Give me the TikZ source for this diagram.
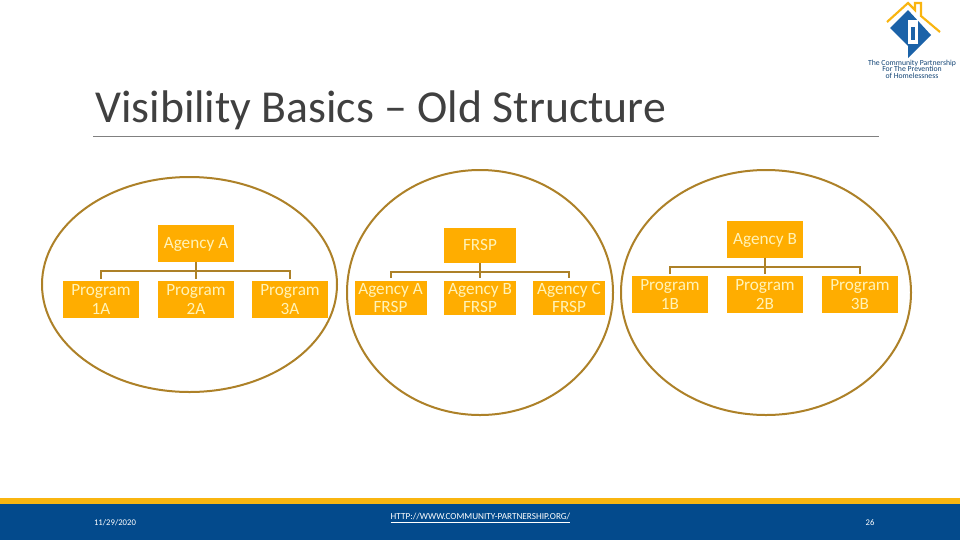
\documentclass[tikz,border=0pt]{standalone}
\usepackage{xcolor}
\usepackage{fontspec}
\setmainfont{Carlito}
\usetikzlibrary{positioning}
\definecolor{orgbox}{HTML}{FFAD00}
\definecolor{orgtext}{HTML}{FFF3B8}
\definecolor{orgline}{HTML}{AD8128}
\definecolor{footblue}{HTML}{034A8C}
\definecolor{footgold}{HTML}{F9B510}
\definecolor{titlegray}{HTML}{404040}
\definecolor{logoblue}{HTML}{1B62A8}
\tikzset{
  orgnode/.style={fill=orgbox, text=orgtext, inner sep=0pt, align=center,
    font=\fontsize{12.9}{13.9}\selectfont},
  bigbox/.style={orgnode, minimum width=57pt, minimum height=27.75pt},
  smallbox/.style={orgnode, minimum width=54pt, minimum height=26pt},
  oneline/.style={text height=8.2pt, text depth=0pt},
  group/.style={draw=orgline, line width=1.5pt},
  link/.style={draw=orgline, line width=1.5pt},
  foottext/.style={white, inner sep=0pt},
  logotext/.style={text=logoblue!70!black, inner sep=0pt, font=\fontsize{5.8}{6}\selectfont}
}
\begin{document}
\begin{tikzpicture}[x=0.75pt, y=-0.75pt]
    \useasboundingbox (0, 0) rectangle (960, 540);
    \fill[white] (0, 0) rectangle (960, 540);

    % Logo
    \fill[logoblue] (908, 10) -- (931, 35) -- (908, 58) -- (908, 46) -- (890, 28) -- cycle;
    \fill[white] (908, 20) rectangle (918, 44);
    \fill[logoblue] (911, 27) rectangle (915, 40);
    \draw[footgold, line width=1.6pt] (887, 22) -- (908, 3) -- (915, 10) -- (915, 3) -- (921, 3) -- (921, 16) -- (940, 32);
    \node[logotext] (logoa) at (912, 63) {The Community Partnership};
    \node[logotext] (logob) at (912, 69) {For The Prevention};
    \node[logotext] (logoc) at (912, 76) {of Homelessness};

    % Title
    \node[anchor=base west, inner sep=0pt, text=titlegray, font=\fontsize{34.3}{36}\selectfont] (title) at (95, 122) {Visibility Basics -- Old Structure};
    \draw[gray, line width=0.6pt] (93, 136) -- (879, 136);

    % Circles
    \draw[group] (189.5, 284.5) ellipse [x radius=147.5, y radius=107.5];
    \draw[group] (480, 292.5) ellipse [x radius=133, y radius=122.5];
    \draw[group] (766, 292.5) ellipse [x radius=145, y radius=122.5];

    % Agency A tree
    \node[bigbox, oneline] (agencya) at (196, 243.5) {Agency A};
    \node[bigbox] (proga1) at (101, 299.5) {Program\\1A};
    \node[bigbox] (proga2) at (196, 299.5) {Program\\2A};
    \node[bigbox] (proga3) at (290, 299.5) {Program\\3A};
    \draw[link] (agencya.south) -- ++(0, 9) -| ([yshift=1.5pt]proga1.north);
    \draw[link] (agencya.south) -- ++(0, 9) -| ([yshift=1.5pt]proga3.north);
    \draw[link] (agencya.south) -- ([yshift=1.5pt]proga2.north);

    % FRSP tree
    \node[smallbox, oneline] (frsp) at (480, 245.5) {FRSP};
    \node[smallbox] (frspa) at (390.5, 298) {Agency A\\FRSP};
    \node[smallbox] (frspb) at (480, 298) {Agency B\\FRSP};
    \node[smallbox] (frspc) at (569, 298) {Agency C\\FRSP};
    \draw[link] (frsp.south) -- ++(0, 9) -| ([yshift=1.5pt]frspa.north);
    \draw[link] (frsp.south) -- ++(0, 9) -| ([yshift=1.5pt]frspc.north);
    \draw[link] (frsp.south) -- ([yshift=1.5pt]frspb.north);

    % Agency B tree
    \node[bigbox, oneline] (agencyb) at (765, 239) {Agency B};
    \node[bigbox] (progb1) at (670, 294.5) {Program\\1B};
    \node[bigbox] (progb2) at (765, 294.5) {Program\\2B};
    \node[bigbox] (progb3) at (860, 294.5) {Program\\3B};
    \draw[link] (agencyb.south) -- ++(0, 9) -| ([yshift=1.5pt]progb1.north);
    \draw[link] (agencyb.south) -- ++(0, 9) -| ([yshift=1.5pt]progb3.north);
    \draw[link] (agencyb.south) -- ([yshift=1.5pt]progb2.north);

    % Footer
    \fill[footblue] (0, 503) rectangle (960, 540);
    \fill[footgold] (0, 498) rectangle (960, 503.5);
    \node[foottext, font=\fontsize{6.5}{7}\selectfont] (date) at (115, 523) {11/29/2020};
    \node[foottext, font=\fontsize{6.9}{7}\selectfont] (site) at (480.5, 518) {\underline{HTTP://WWW.COMMUNITY-PARTNERSHIP.ORG/}};
    \node[foottext, font=\fontsize{6.5}{7}\selectfont] (page) at (870, 523) {26};
\end{tikzpicture}
\end{document}
